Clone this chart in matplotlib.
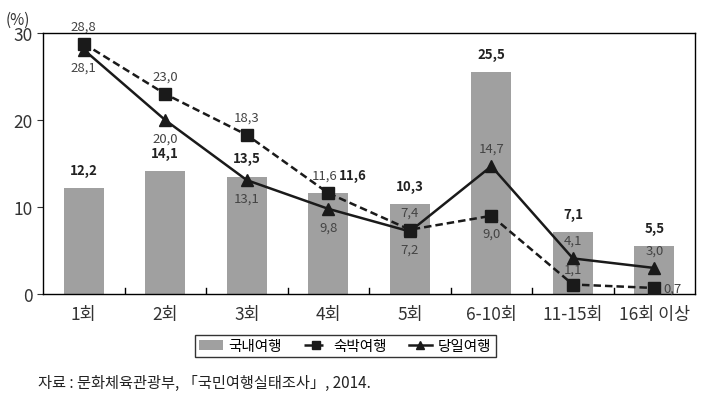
import matplotlib.pyplot as plt
import numpy as np

plt.rcParams['font.family'] = ['Noto Sans CJK KR', 'DejaVu Sans']

categories = ['1회', '2회', '3회', '4회', '5회', '6-10회', '11-15회', '16회 이상']
domestic = [12.2, 14.1, 13.5, 11.6, 10.3, 25.5, 7.1, 5.5]
overnight = [28.8, 23.0, 18.3, 11.6, 7.4, 9.0, 1.1, 0.7]
dayTrip = [28.1, 20.0, 13.1, 9.8, 7.2, 14.7, 4.1, 3.0]

def fmt(v):
    return f'{v:.1f}'.replace('.', ',')

x = np.arange(len(categories))

fig = plt.figure(figsize=(7.12, 4.02), dpi=100)
ax = fig.add_axes([0.0604, 0.266, 0.916, 0.649])

bars = ax.bar(x, domestic, width=0.49, color='#a0a0a0', label='국내여행', zorder=1)
l1, = ax.plot(x, overnight, color='#1a1a1a', ls=(0, (3, 1.6)), lw=1.8, marker='s', ms=8,
              label='숙박여행', zorder=3)
l2, = ax.plot(x, dayTrip, color='#1a1a1a', ls='-', lw=1.8, marker='^', ms=8,
              label='당일여행', zorder=3)

ax.set_xlim(-0.5, len(categories) - 0.5)
ax.set_ylim(0, 30)
ax.set_yticks([0, 10, 20, 30])
ax.set_xticks(x)
ax.set_xticklabels(categories)
ax.tick_params(axis='x', length=0, labelsize=12.5, colors='#333333', pad=8)
ax.tick_params(axis='y', length=4, labelsize=12.5, colors='#333333', direction='out')
for t in np.arange(0.5, len(categories) - 0.5):
    ax.plot([t, t], [0, 0.7], color='black', lw=1, zorder=2)
for s in ax.spines.values():
    s.set_linewidth(1.0)
ax.text(-0.02, 1.02, '(%)', transform=ax.transAxes, fontsize=11, color='#333333',
        ha='right', va='bottom')

# bar labels (bold)
bar_dx = [0, 0, 0, 0.3, 0, 0, 0, 0]
for i, v in enumerate(domestic):
    ax.text(x[i] + bar_dx[i], v + 1.3, fmt(v), ha='center', va='bottom',
            fontsize=9.5, fontweight='bold', color='#222222')

# overnight labels
ov_off = [(0, 1.3), (0, 1.3), (0, 1.3), (-0.05, 1.3), (0, 1.3), (0, -1.2), (0, 1.0), (0.22, 0)]
for i, v in enumerate(overnight):
    dx, dy = ov_off[i]
    ax.text(x[i] + dx, v + dy, fmt(v), ha='center',
            va='bottom' if dy > 0 else ('top' if dy < 0 else 'center'),
            fontsize=9.5, color='#444444')

# day trip labels
dt_off = [(0, -1.3), (0, -1.3), (0, -1.3), (0, -1.3), (0, -1.3), (0, 1.3), (0, 1.3), (0, 1.3)]
for i, v in enumerate(dayTrip):
    dx, dy = dt_off[i]
    ax.text(x[i] + dx, v + dy, fmt(v), ha='center',
            va='bottom' if dy > 0 else 'top', fontsize=9.5, color='#444444')

leg = fig.legend([bars, l1, l2], ['국내여행', '숙박여행', '당일여행'],
                 loc='center', bbox_to_anchor=(0.485, 0.137), ncol=3, fontsize=10.5,
                 frameon=True, fancybox=False, edgecolor='black', handlelength=1.6,
                 columnspacing=1.5, handletextpad=0.4, borderpad=0.3, markerscale=0.75)
leg.get_frame().set_linewidth(1.0)

fig.text(0.053, 0.045, '자료 : 문화체육관광부, 「국민여행실태조사」, 2014.', fontsize=11,
         color='#222222', ha='left', va='center')

fig.savefig('out.png', dpi=100)
